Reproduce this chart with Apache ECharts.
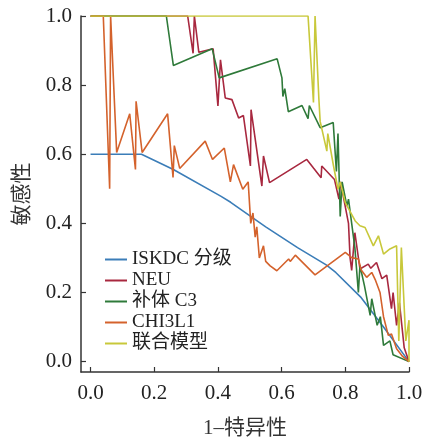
<!DOCTYPE html>
<html>
<head>
<meta charset="utf-8">
<script src="https://cdn.jsdelivr.net/npm/echarts@6/dist/echarts.min.js"></script>
<style>
  html, body { margin: 0; padding: 0; background: #fff; }
  #chart { width: 424px; height: 441px; }
</style>
</head>
<body>
<div id="chart"></div>
<script>
// tick labels shared by both axes
var tickValues = [0, 0.2, 0.4, 0.6, 0.8, 1.0];

var seriesNames = ['ISKDC 分级', 'NEU', '补体 C3', 'CHI3L1', '联合模型'];

// [1-特异性, 敏感性] pairs
var iskdcPts = [[0, 0.6], [0.16, 0.6], [0.26, 0.556], [0.41, 0.478], [0.44, 0.461], [0.55, 0.39],
  [0.65, 0.33], [0.74, 0.28], [0.77, 0.258], [0.85, 0.185], [0.92, 0.1], [1, 0]];

var neuPts = [[0, 1], [0.305, 1], [0.322, 0.892], [0.326, 1], [0.34, 0.895], [0.385, 0.905],
  [0.40, 0.74], [0.408, 0.873], [0.423, 0.763], [0.444, 0.758], [0.465, 0.705], [0.48, 0.712],
  [0.502, 0.566], [0.504, 0.729], [0.538, 0.508], [0.543, 0.595], [0.562, 0.518], [0.679, 0.585],
  [0.70, 0.56], [0.724, 0.532], [0.726, 0.566], [0.766, 0.527], [0.78, 0.47], [0.785, 0.52],
  [0.81, 0.40], [0.815, 0.30], [0.82, 0.264], [0.83, 0.373], [0.846, 0.268], [0.872, 0.282],
  [0.88, 0.27], [0.898, 0.287], [0.915, 0.24], [0.93, 0.25], [0.945, 0.153], [0.95, 0.2],
  [0.961, 0.105], [0.97, 0.17], [0.985, 0.04], [1, 0]];

var c3Pts = [[0, 1], [0.238, 1], [0.26, 0.857], [0.382, 0.905], [0.404, 0.821], [0.586, 0.876],
  [0.601, 0.821], [0.604, 0.767], [0.61, 0.79], [0.621, 0.723], [0.664, 0.741], [0.683, 0.703],
  [0.687, 0.741], [0.721, 0.677], [0.762, 0.692], [0.772, 0.55], [0.777, 0.66], [0.784, 0.42],
  [0.79, 0.52], [0.805, 0.45], [0.81, 0.47], [0.83, 0.33], [0.841, 0.2], [0.846, 0.278],
  [0.86, 0.22], [0.878, 0.134], [0.883, 0.182], [0.9, 0.105], [0.91, 0.13], [0.92, 0.047],
  [0.94, 0.06], [0.95, 0.02], [1, 0]];

var chi3l1Pts = [[0, 1], [0.04, 1], [0.06, 0.5], [0.063, 1], [0.082, 0.605], [0.123, 0.717],
  [0.141, 0.556], [0.143, 0.753], [0.162, 0.605], [0.242, 0.717], [0.259, 0.533], [0.263, 0.625],
  [0.28, 0.559], [0.36, 0.638], [0.383, 0.585], [0.42, 0.618], [0.439, 0.52], [0.449, 0.57],
  [0.478, 0.499], [0.495, 0.52], [0.503, 0.40], [0.51, 0.43], [0.517, 0.36], [0.522, 0.39],
  [0.53, 0.30], [0.543, 0.335], [0.55, 0.29], [0.564, 0.277], [0.585, 0.263], [0.622, 0.297],
  [0.627, 0.29], [0.643, 0.308], [0.705, 0.251], [0.80, 0.316], [0.82, 0.301], [0.841, 0.297],
  [0.85, 0.265], [0.867, 0.244], [0.883, 0.258], [0.895, 0.235], [0.909, 0.2], [0.92, 0.13],
  [0.935, 0.076], [0.945, 0.08], [0.961, 0.037], [0.98, 0.015], [1, 0]];

var combinedPts = [[0, 1], [0.683, 1], [0.70, 0.75], [0.705, 1], [0.717, 0.76], [0.721, 0.695],
  [0.742, 0.609], [0.745, 0.66], [0.763, 0.566], [0.777, 0.499], [0.784, 0.52], [0.80, 0.46],
  [0.831, 0.407], [0.846, 0.393], [0.862, 0.388], [0.888, 0.335], [0.904, 0.364], [0.92, 0.311],
  [0.94, 0.326], [0.961, 0.335], [0.968, 0.06], [0.976, 0.33], [0.99, 0.06], [1, 0.12], [1, 0]];

var colors = ['#3b7db8', '#a8283f', '#2f7a3a', '#d4622c', '#c8c83a'];
var allPts = [iskdcPts, neuPts, c3Pts, chi3l1Pts, combinedPts];

var chart = echarts.init(document.getElementById('chart'));

var font = '"Liberation Serif", "Noto Sans CJK SC", serif';

function axisCfg(name, isX) {
  return {
    type: 'value',
    min: -0.03,
    max: 1,
    name: name,
    nameLocation: 'middle',
    nameGap: isX ? 46 : 48,
    nameMoveOverlap: false,
    nameTextStyle: { fontSize: 21, color: '#333', fontFamily: font },
    axisLine: { show: true, onZero: false, lineStyle: { color: '#333', width: 1.5 } },
    axisTick: { show: true, inside: true, length: 5, customValues: tickValues, lineStyle: { color: '#333', width: 1.2 } },
    axisLabel: {
      customValues: tickValues,
      margin: isX ? 11 : 9,
      fontSize: 21,
      color: '#222',
      fontFamily: font,
      formatter: function (v) { return v.toFixed(1); }
    },
    splitLine: { show: false }
  };
}

chart.setOption({
  animation: false,
  backgroundColor: '#fff',
  color: colors,
  grid: { left: 81, right: 15, top: 16, bottom: 69, outerBoundsMode: 'none' },
  xAxis: axisCfg('1–特异性', true),
  yAxis: axisCfg('敏感性', false),
  legend: {
    orient: 'vertical',
    left: 100,
    top: 244,
    icon: 'rect',
    itemWidth: 22,
    itemHeight: 2,
    itemGap: 0,
    data: seriesNames,
    textStyle: { fontSize: 19, lineHeight: 21, color: '#222', fontFamily: font }
  },
  series: seriesNames.map(function (n, i) {
    return {
      name: n,
      type: 'line',
      data: allPts[i],
      symbol: 'none',
      lineStyle: { width: 1.6, color: colors[i] },
      z: 2 + i
    };
  })
});
</script>
</body>
</html>
